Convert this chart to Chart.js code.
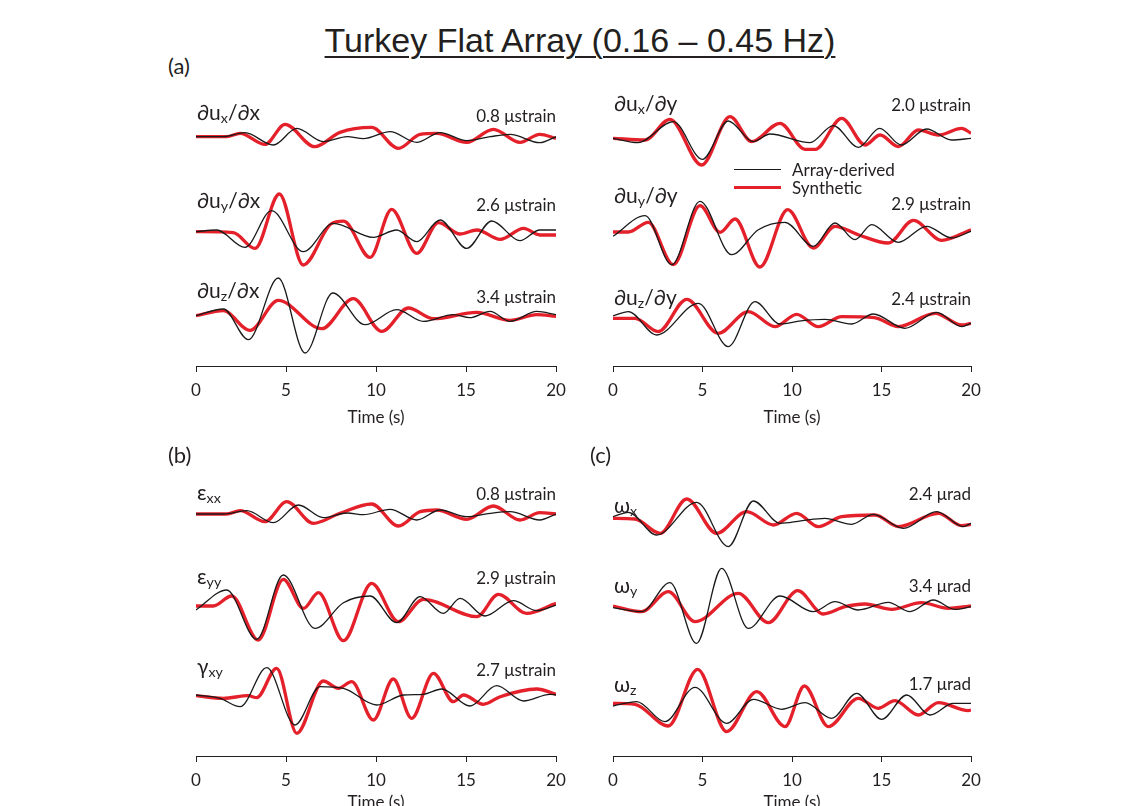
<!DOCTYPE html>
<html>
<head>
<meta charset="utf-8">
<script src="https://cdn.jsdelivr.net/npm/chart.js@4.4.0/dist/chart.umd.min.js"></script>
<style>
  body { margin: 0; background: #fff; }
  #fig { position: relative; width: 1126px; height: 806px; overflow: hidden;
         font-family: Lato, 'DejaVu Sans', sans-serif; color: #231f20; }
  canvas { position: absolute; }
  .t { position: absolute; white-space: nowrap; line-height: 1; transform: translateY(-50%); }
  .lab { font-size: 21px; }
  .amp { font-size: 17px; }
  .tag { font-size: 22px; }
  .xt { font-size: 17px; transform: translate(-50%, -50%); }
  .leg { font-size: 17px; }
  sub { font-size: 0.68em; vertical-align: baseline; position: relative; top: 0.22em; }
  #title { position: absolute; left: 0; width: 1160px; top: 40px; transform: translateY(-50%);
           text-align: center; font-family: 'Liberation Sans', Arial, sans-serif; font-size: 34px;
           text-decoration: underline; text-decoration-thickness: 1.5px; text-underline-offset: 4px; line-height: 1; }
  .legline { position: absolute; left: 734px; width: 47px; }
</style>
</head>
<body>
<div id="fig">
  <canvas id="panelA1"></canvas>
  <canvas id="panelA2"></canvas>
  <canvas id="panelB"></canvas>
  <canvas id="panelC"></canvas>

  <div id="title">Turkey Flat Array (0.16 – 0.45 Hz)</div>
  <div class="t tag" style="left:168px;top:66px">(a)</div>
  <div class="t tag" style="left:168px;top:455px">(b)</div>
  <div class="t tag" style="left:590px;top:455px">(c)</div>

  <!-- trace names -->
  <div class="t lab" style="left:197px;top:112px">∂u<sub>x</sub>/∂x</div>
  <div class="t lab" style="left:197px;top:200px">∂u<sub>y</sub>/∂x</div>
  <div class="t lab" style="left:197px;top:290px">∂u<sub>z</sub>/∂x</div>
  <div class="t lab" style="left:614px;top:103px">∂u<sub>x</sub>/∂y</div>
  <div class="t lab" style="left:614px;top:195px">∂u<sub>y</sub>/∂y</div>
  <div class="t lab" style="left:614px;top:297px">∂u<sub>z</sub>/∂y</div>
  <div class="t lab" style="left:197px;top:492px">ε<sub>xx</sub></div>
  <div class="t lab" style="left:197px;top:576px">ε<sub>yy</sub></div>
  <div class="t lab" style="left:197px;top:666px">γ<sub>xy</sub></div>
  <div class="t lab" style="left:614px;top:505px">ω<sub>x</sub></div>
  <div class="t lab" style="left:614px;top:585px">ω<sub>y</sub></div>
  <div class="t lab" style="left:614px;top:684px">ω<sub>z</sub></div>

  <!-- amplitude scale labels -->
  <div class="t amp" style="right:570px;top:115px">0.8 μstrain</div>
  <div class="t amp" style="right:570px;top:204px">2.6 μstrain</div>
  <div class="t amp" style="right:570px;top:296px">3.4 μstrain</div>
  <div class="t amp" style="right:155px;top:104px">2.0 μstrain</div>
  <div class="t amp" style="right:155px;top:203px">2.9 μstrain</div>
  <div class="t amp" style="right:155px;top:298px">2.4 μstrain</div>
  <div class="t amp" style="right:570px;top:493px">0.8 μstrain</div>
  <div class="t amp" style="right:570px;top:577px">2.9 μstrain</div>
  <div class="t amp" style="right:570px;top:669px">2.7 μstrain</div>
  <div class="t amp" style="right:155px;top:493px">2.4 μrad</div>
  <div class="t amp" style="right:155px;top:585px">3.4 μrad</div>
  <div class="t amp" style="right:155px;top:683px">1.7 μrad</div>

  <!-- legend -->
  <div class="legline" style="top:169px;height:1.4px;background:#1a1a1a"></div>
  <div class="legline" style="top:186px;height:3.4px;background:#e4202a"></div>
  <div class="t leg" style="left:792px;top:169px">Array-derived</div>
  <div class="t leg" style="left:792px;top:187px">Synthetic</div>

  <!-- axis titles -->
  <div class="t xt" style="left:376px;top:416px">Time (s)</div>
  <div class="t xt" style="left:792px;top:416px">Time (s)</div>
  <div class="t xt" style="left:376px;top:801px">Time (s)</div>
  <div class="t xt" style="left:792px;top:801px">Time (s)</div>
</div>

<script>
// [time (s), amplitude] at turning points; amplitude in arbitrary units
// (a) gradients wrt x
const duxdxArray = [[0,0],[1.52,0],[2.72,4],[4.3,-8.3],[5.6,8.3],[7.07,-5],[8.4,0],[9.3,-2],[10.78,5],[12.26,-5.7],[13.56,4],[15.04,-4],[16.34,0],[17.45,2.3],[19.1,-6],[20,0]];
const duxdxSynth = [[0,0],[1.7,0],[2.45,3.3],[3.83,-7.7],[4.95,12.3],[6.6,-10],[8.0,4.3],[9.76,9.3],[11.24,-11.7],[12.45,2.3],[13.37,3.3],[15.04,-5.7],[16.52,7.3],[18.0,-5.7],[19.1,2.3],[20,-1.7]];
const duydxArray = [[0,0],[1.15,1.7],[2.72,-15.7],[4.2,21],[5.96,-20],[7.63,8.3],[9.85,-5.7],[11.15,1.7],[12.26,-10],[13.56,11.7],[15.04,-16.7],[16.43,10.7],[18.0,-9],[19.1,1.7],[20,1.7]];
const duydxSynth = [[0,0],[2.07,-1],[3.28,-16.7],[4.63,37.7],[5.96,-33.3],[7.5,7.7],[8.2,10.5],[9.67,-25.7],[10.87,22.3],[12.26,-21.7],[13.47,9],[14.67,-2.3],[15.6,1.7],[16.9,-7.7],[18.2,3.3],[19.1,-3.3],[20,-3.3]];
const duzdxArray = [[0,0],[1.52,6.7],[2.91,-24],[4.57,37.7],[6.06,-37.3],[7.6,22.7],[9.39,-9],[11.15,6],[12.63,-5.7],[14.3,1],[15.2,-2],[16.34,4.3],[17.45,-5.7],[18.93,4.3],[20,1]];
const duzdxSynth = [[0,0],[1.52,5],[3.0,-14.7],[4.57,15.3],[6.98,-13],[8.74,17],[10.32,-15.7],[11.8,7.7],[13.19,-3],[15.6,3.3],[17.45,-4.7],[18.93,1],[20,-0.7]];

// (a) gradients wrt y
const duxdyArray = [[0,0],[1.4,-4.3],[3.37,16.7],[4.99,-21],[6.44,17.3],[7.84,-3.3],[8.77,4.3],[11.0,-4.3],[12.31,12.7],[13.7,-9],[14.9,10],[16.1,-6.7],[17.52,9.3],[18.92,-1.7],[20,0]];
const duxdySynth = [[0,0],[1.79,-1.7],[3.18,19],[4.95,-26.7],[6.54,21.7],[7.75,-3.3],[9.33,15],[10.73,-11],[11.3,-11],[12.78,20],[14.08,-6.7],[14.92,3.3],[15.94,-8.3],[17.06,8.3],[18.18,3.3],[19.48,10],[20,5]];
const duydyArray = [[0,-3.3],[1.79,17.3],[3.28,-31.7],[4.86,31.7],[6.63,-21.7],[8.12,3.3],[9.6,10.7],[11.19,-13.3],[12.4,10],[13.52,-6.7],[14.45,8.3],[15.94,-9.3],[17.52,6.7],[18.92,-5],[20,1.7]];
const duydySynth = [[0,1],[0.86,1],[1.97,10.7],[3.37,-31.7],[4.86,27.3],[5.98,0.7],[6.82,14],[8.21,-34],[9.76,23.3],[11.19,-15],[12.4,6.7],[13.7,-1.7],[15.38,-10],[16.78,12.7],[18.36,-7.3],[20,3.3]];
const duzdyArray = [[0,2.3],[0.86,6.7],[2.44,-16.7],[4.77,15],[6.44,-28.3],[7.93,16.7],[9.33,-5.7],[10.5,-2.5],[11.84,-1],[13.33,-5.7],[14.54,4.3],[16.31,-10],[18.08,6],[19.48,-8.3],[20,-5]];
const duzdySynth = [[0,0],[1.23,0],[2.53,-13.3],[4.12,19],[5.88,-15],[7.56,6.7],[9.05,-8.3],[10.26,4],[11.47,-8.3],[12.77,1.7],[14.6,0.7],[15.94,-8.3],[18.0,5],[19.48,-6.7],[20,-5]];

// (b) strains
const exxArray = [[0,0],[1.52,0],[2.82,3.3],[4.3,-8.7],[5.69,9],[7.07,-3.7],[8.4,1],[9.3,-0.7],[10.78,4.7],[12.26,-6],[13.56,4],[15.04,-2.7],[16.34,0.7],[17.45,2.3],[19.1,-6],[20,0]];
const exxSynth = [[0,0],[1.7,0],[2.45,3.3],[3.83,-7.7],[5.04,12.3],[6.52,-9.3],[8.0,0.7],[9.76,10],[11.24,-12],[12.45,2.3],[13.37,4],[15.04,-5.3],[16.52,8],[18.0,-6],[19.1,1.3],[20,0]];
const eyyArray = [[0,-3.3],[1.7,16.7],[3.37,-32.7],[4.85,31.7],[6.61,-21.7],[8.19,4],[9.67,10.7],[11.15,-16],[12.45,10],[13.74,-6.7],[14.67,8.3],[16.06,-9.3],[17.63,6],[18.93,-4],[20,1.7]];
const eyySynth = [[0,0.7],[0.96,0.7],[1.98,10.7],[3.46,-33.3],[4.85,27.3],[5.97,-1.7],[6.8,14],[8.19,-34],[9.76,23.3],[11.24,-15],[12.63,7.3],[15.6,-10],[16.8,12.3],[18.37,-6.7],[20,3.3]];
const gxyArray = [[0,0],[1.33,-3.3],[2.45,-11.7],[3.93,27.3],[5.5,-30],[6.89,8.3],[8.19,6.7],[10.04,-10],[11.52,0],[12.63,0.7],[13.65,6],[15.22,-11],[16.7,9.3],[18.19,-6],[19.67,0.7],[20,0]];
const gxySynth = [[0,-0.7],[1.52,-3.3],[2.91,-0.7],[3.37,-2.7],[4.48,26.7],[5.6,-38.3],[7.07,14],[7.91,6.7],[8.65,13.3],[9.85,-25],[10.96,16],[11.98,-23.3],[13.19,21.7],[14.3,-6.7],[14.86,0],[15.96,-9.3],[16.9,-1.7],[18.93,6],[20,0.7]];

// (c) rotations
const wxArray = [[0,1.7],[0.86,6],[2.44,-16.7],[4.67,16],[6.44,-28.3],[7.84,17.3],[9.33,-5],[10.5,-2.5],[11.84,0],[13.33,-6],[14.54,4],[16.22,-10],[18.08,6.7],[19.57,-8.3],[20,-5]];
const wxSynth = [[0,0],[1.23,-0.7],[2.63,-15],[4.12,19.3],[5.79,-15],[7.47,6.7],[8.96,-6.7],[10.26,5],[11.47,-8.3],[12.77,1.7],[14.64,3.3],[15.94,-8.3],[18.18,5],[19.48,-7.3],[20,-6]];
const wyArray = [[0,-1],[1.6,-5],[3.18,24],[4.67,-36.7],[6.07,38.3],[7.56,-21.7],[9.33,10.7],[11.19,-5],[12.4,5],[13.7,-3.3],[15.38,4.3],[16.59,-5],[17.9,6.7],[19.1,-2.7],[20,0]];
const wySynth = [[0,0.7],[1.6,-5],[3.09,15],[4.58,-15],[7.0,13.3],[8.68,-16],[10.32,16],[11.75,-7.3],[12.96,0],[14.08,2.7],[15.57,-2.7],[17.24,4],[18.73,-1.7],[20,0.7]];
const wzArray = [[0,-1.7],[1.32,2.7],[2.9,-17.3],[4.58,17],[6.35,-19],[7.84,5],[9.42,-5],[10.73,1.7],[12.22,-14],[13.61,11],[15.01,-15],[16.41,9.3],[17.71,-10.7],[19.01,1],[20,1]];
const wzSynth = [[0,1],[1.23,0],[3.09,-21.7],[4.73,35],[6.35,-27.3],[8.03,12.7],[9.61,-22.3],[10.69,18.3],[12.03,-22.3],[13.7,6],[14.82,-4],[15.75,3.7],[17.06,-10.7],[18.18,1.7],[19.85,-6.3],[20,-5.7]];

const TIME_TICKS = [0, 5, 10, 15, 20];

const COLOR_ARRAY = '#1a1a1a';
const COLOR_SYNTH = '#e4202a';
const AXIS_COLOR = '#231f20';
const FONT = 'Lato, "DejaVu Sans", sans-serif';

// page layout: plot box in page pixels, baseline of each trace
const PANELS = [
  { id: 'panelA1', box: { l: 196, r: 556, t: 95, b: 366 },
    rows: [{ base: 136.7, arr: duxdxArray, syn: duxdxSynth },
           { base: 231.7, arr: duydxArray, syn: duydxSynth },
           { base: 315.7, arr: duzdxArray, syn: duzdxSynth }] },
  { id: 'panelA2', box: { l: 613, r: 971, t: 95, b: 366 },
    rows: [{ base: 138.3, arr: duxdyArray, syn: duxdySynth },
           { base: 233, arr: duydyArray, syn: duydySynth },
           { base: 318.3, arr: duzdyArray, syn: duzdySynth }] },
  { id: 'panelB', box: { l: 196, r: 556, t: 478, b: 756 },
    rows: [{ base: 514, arr: exxArray, syn: exxSynth },
           { base: 606.7, arr: eyyArray, syn: eyySynth },
           { base: 695, arr: gxyArray, syn: gxySynth }] },
  { id: 'panelC', box: { l: 613, r: 971, t: 478, b: 756 },
    rows: [{ base: 518.3, arr: wxArray, syn: wxSynth },
           { base: 606.7, arr: wyArray, syn: wySynth },
           { base: 704.3, arr: wzArray, syn: wzSynth }] }
];

const toXY = pts => pts.map(p => ({ x: p[0], y: p[1] }));

function makePanel(panel) {
  const { box, rows } = panel;
  const padL = 46, padR = 24, padT = 15, padB = 4, axisH = 40;
  const canvas = document.getElementById(panel.id);
  canvas.width = box.r - box.l + padL + padR;
  canvas.height = box.b - box.t + padT + axisH + padB;
  canvas.style.left = (box.l - padL) + 'px';
  canvas.style.top = (box.t - padT) + 'px';

  const scales = {
    x: {
      type: 'linear', min: 0, max: 20,
      afterBuildTicks: s => { s.ticks = TIME_TICKS.map(v => ({ value: v })); },
      afterFit: s => { s.height = axisH; },
      grid: { drawOnChartArea: false, drawTicks: true, tickLength: 6, color: AXIS_COLOR },
      border: { display: true, color: AXIS_COLOR, width: 1 },
      ticks: { padding: 8, autoSkip: false, maxRotation: 0, color: AXIS_COLOR, font: { family: FONT, size: 17 } }
    }
  };
  const datasets = [];

  // one stacked y axis per trace, 1 unit = 1 px
  rows.forEach((row, i) => {
    const top = i === 0 ? box.t : (rows[i - 1].base + row.base) / 2;
    const bottom = i === rows.length - 1 ? box.b : (row.base + rows[i + 1].base) / 2;
    const id = 'y' + i;
    scales[id] = {
      type: 'linear', position: 'left', stack: 'traces', stackWeight: bottom - top,
      weight: rows.length - i, min: -(bottom - row.base), max: row.base - top,
      ticks: { display: false }, grid: { display: false }, border: { display: false },
      afterFit: s => { s.width = 0; }
    };
    datasets.push({
      data: toXY(row.arr), yAxisID: id, order: 0,
      borderColor: COLOR_ARRAY, borderWidth: 1.3
    });
    datasets.push({
      data: toXY(row.syn), yAxisID: id, order: 1,
      borderColor: COLOR_SYNTH, borderWidth: 3.3
    });
  });

  new Chart(canvas.getContext('2d'), {
    type: 'line',
    data: { datasets },
    options: {
      responsive: false,
      animation: false,
      devicePixelRatio: 1,
      layout: { padding: { left: padL, right: padR, top: padT, bottom: padB } },
      elements: {
        point: { radius: 0 },
        line: { cubicInterpolationMode: 'monotone', fill: false, clip: false }
      },
      scales,
      plugins: { legend: { display: false }, tooltip: { enabled: false } }
    }
  });
}

PANELS.forEach(makePanel);
</script>
</body>
</html>
